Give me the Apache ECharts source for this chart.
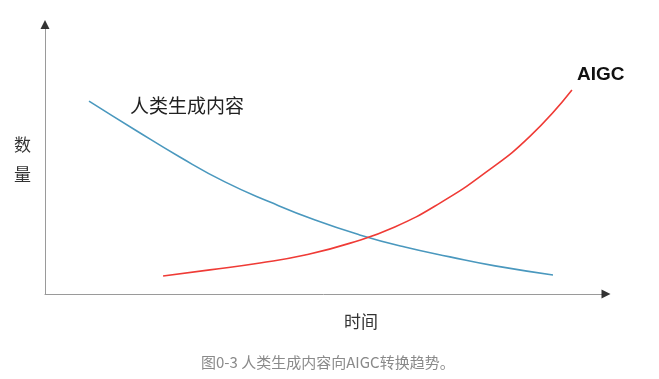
<!DOCTYPE html>
<html><head><meta charset="utf-8">
<script src="https://cdn.jsdelivr.net/npm/echarts@6/dist/echarts.min.js"></script>
<style>html,body{margin:0;padding:0;background:#fff}#c{width:659px;height:379px}</style>
</head><body><div id="c"></div>
<script>
// Human-generated content (blue), [time, amount]
const humanData = [[7.9,72.8],[16.2,61.9],[24.2,51.7],[32.3,42.3],[40.4,34.7],[48.5,27.9],[56.5,22.3],[64.6,17.7],[72.7,14.0],[80.8,10.6],[91.2,7.2]];
// AIGC (red), [time, amount]
const aigcData = [[21.2,6.8],[29.6,9.1],[38.6,11.7],[46.7,14.7],[54.8,19.2],[62.8,25.3],[70.9,34.3],[79.0,45.7],[87.1,59.6],[94.6,77.0]];
const arrowData = [[100,0],[0,100]];
const labels = {human:'人类生成内容', aigc:'AIGC', yName:'数\n量', xName:'时间', caption:'图0-3 人类生成内容向AIGC转换趋势。'};

const cjk = '"Noto Sans CJK SC", sans-serif';
const chart = echarts.init(document.getElementById('c'), null, {renderer:'canvas'});
chart.setOption({
  animation:false,
  backgroundColor:'#fff',
  grid:{left:45,right:57,top:29,bottom:85},
  xAxis:{type:'value',min:0,max:100,axisLine:{show:true,onZero:false,lineStyle:{color:'#9a9a9a',width:1}},axisTick:{show:false},axisLabel:{show:false},splitLine:{show:false}},
  yAxis:{type:'value',min:0,max:100,axisLine:{show:true,onZero:false,lineStyle:{color:'#9a9a9a',width:1}},axisTick:{show:false},axisLabel:{show:false},splitLine:{show:false}},
  series:[
    {type:'line',data:humanData,smooth:0.5,symbol:'none',lineStyle:{color:'#4a98be',width:1.6}},
    {type:'line',data:aigcData,smooth:0.5,symbol:'none',lineStyle:{color:'#ef3b36',width:1.6}},
    {type:'scatter',data:[arrowData[0]],clip:false,symbol:'triangle',symbolSize:[9,9],symbolRotate:-90,symbolOffset:[4,0],itemStyle:{color:'#000'},silent:true},
    {type:'scatter',data:[arrowData[1]],clip:false,symbol:'triangle',symbolSize:[9,9],symbolOffset:[0,-4.5],itemStyle:{color:'#000'},silent:true}
  ],
  graphic:[
    {type:'text',left:130,top:96,style:{text:labels.human,font:'19px '+cjk,fill:'#222'}},
    {type:'text',left:577,top:65,style:{text:labels.aigc,font:'bold 19px Arial, "Liberation Sans", sans-serif',fill:'#111'}},
    {type:'text',left:14,top:130,style:{text:labels.yName,font:'17px '+cjk,fill:'#333',lineHeight:30}},
    {type:'text',left:344,top:313,style:{text:labels.xName,font:'17px '+cjk,fill:'#333'}},
    {type:'text',left:201,top:355,style:{text:labels.caption,font:'15px '+cjk,fill:'#8a8a8a'}}
  ]
});
</script></body></html>
